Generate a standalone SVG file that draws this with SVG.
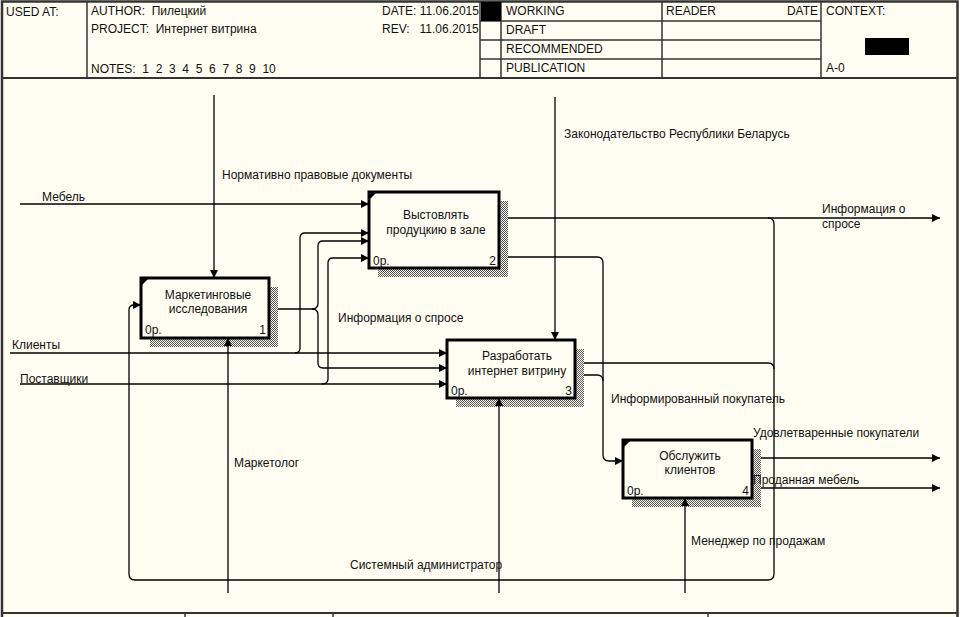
<svg xmlns="http://www.w3.org/2000/svg" width="960" height="617" viewBox="0 0 960 617">
<defs>
<pattern id="hatch" width="2" height="2" patternUnits="userSpaceOnUse">
<rect width="2" height="2" fill="#fffdf2"/>
<rect x="0" y="0" width="1" height="1" fill="#555"/>
<rect x="1" y="1" width="1" height="1" fill="#555"/>
</pattern>
<marker id="arr" viewBox="0 0 10 10" refX="10" refY="5" markerWidth="9" markerHeight="8" markerUnits="userSpaceOnUse" orient="auto">
<path d="M0,0 L10,5 L0,10 z" fill="#000"/>
</marker>
<style>
text{font-family:"Liberation Sans",Arial,sans-serif;font-size:12px;fill:#111}
.pre{white-space:pre}
.hl{stroke:#333;stroke-width:1.5;fill:none}
.c{stroke:#000;stroke-width:1.3;fill:none}
.ca{stroke:#000;stroke-width:1.3;fill:none;marker-end:url(#arr)}
.box{fill:#fffdf2;stroke:#000;stroke-width:3}
.sh{fill:url(#hatch)}
.mid{text-anchor:middle}
.end{text-anchor:end}
</style>
</defs>
<rect x="0" y="0" width="960" height="617" fill="#fffdf2"/>
<g id="header">
<rect x="2" y="1.5" width="955.5" height="640" class="hl" style="stroke-width:2.5"/>
<line x1="2" y1="78" x2="957" y2="78" class="hl" style="stroke-width:2"/>
<line x1="87" y1="1" x2="87" y2="78" class="hl"/>
<line x1="480" y1="1" x2="480" y2="78" class="hl"/>
<line x1="501" y1="1" x2="501" y2="78" class="hl"/>
<line x1="662" y1="1" x2="662" y2="78" class="hl"/>
<line x1="821" y1="1" x2="821" y2="78" class="hl"/>
<line x1="480" y1="21" x2="821" y2="21" class="hl"/>
<line x1="480" y1="40" x2="821" y2="40" class="hl"/>
<line x1="480" y1="59" x2="821" y2="59" class="hl"/>
<rect x="481" y="2" width="20" height="19" fill="#000"/>
<rect x="865" y="38" width="44" height="17" fill="#000"/>
<text x="6" y="16">USED AT:</text>
<text x="91" y="15" class="pre">AUTHOR:  Пилецкий</text>
<text x="91" y="33" class="pre">PROJECT:  Интернет витрина</text>
<text x="91" y="73" class="pre">NOTES:  1  2  3  4  5  6  7  8  9  10</text>
<text x="382" y="15" class="pre">DATE: 11.06.2015</text>
<text x="382" y="33" class="pre">REV:   11.06.2015</text>
<text x="506" y="15">WORKING</text>
<text x="506" y="34">DRAFT</text>
<text x="506" y="53">RECOMMENDED</text>
<text x="506" y="72">PUBLICATION</text>
<text x="666" y="15">READER</text>
<text x="818" y="15" class="end">DATE</text>
<text x="826" y="15">CONTEXT:</text>
<text x="826" y="72">A-0</text>
<line x1="2" y1="613" x2="957" y2="613" class="hl" style="stroke-width:2"/>
<line x1="185" y1="613" x2="185" y2="617" class="hl"/>
<line x1="333" y1="613" x2="333" y2="617" class="hl"/>
<line x1="708" y1="613" x2="708" y2="617" class="hl"/>
</g>
<g id="shadows">
<rect class="sh" x="150" y="287" width="128" height="60"/>
<rect class="sh" x="378" y="201" width="130" height="76"/>
<rect class="sh" x="456" y="349" width="128" height="58"/>
<rect class="sh" x="632" y="449" width="129" height="58"/>
</g>
<g id="connectors">
<path class="ca" d="M20,204 H369"/>
<path class="ca" d="M214,95 V278"/>
<path class="ca" d="M555,97 V340"/>
<path class="ca" d="M10,353 H447"/>
<path class="ca" d="M295,353 Q300,353 300,348 V238 Q300,233 305,233 H369"/>
<path class="ca" d="M20,384 H447"/>
<path class="ca" d="M322,384 Q328,384 328,379 V263 Q328,258 333,258 H369"/>
<path class="c" d="M278,309 H312"/>
<path class="ca" d="M312,309 Q318,309 318,303 V246 Q318,241 323,241 H369"/>
<path class="ca" d="M312,309 Q318,309 318,315 V363 Q318,368 323,368 H447"/>
<path class="ca" d="M508,218 H940"/>
<path class="ca" d="M768,218 Q774,218 774,224 V574 Q774,580 768,580 H135 Q129,580 129,574 V310 Q129,305 134,305 H141"/>
<path class="c" d="M584,363 H768 Q774,363 774,369"/>
<path class="ca" d="M508,257 H597 Q603,257 603,263 V455 Q603,461 609,461 H623"/>
<path class="c" d="M584,375 H597 Q603,375 603,381"/>
<path class="ca" d="M761,458 H940"/>
<path class="ca" d="M761,488 H940"/>
<path class="ca" d="M228,593 V338"/>
<path class="ca" d="M499,593 V398"/>
<path class="ca" d="M685,593 V498"/>
<text x="222" y="179">Нормативно правовые документы</text>
<text x="564" y="138">Законодательство Республики Беларусь</text>
<text x="42" y="201">Мебель</text>
<text x="12" y="349">Клиенты</text>
<text x="20" y="383">Поставщики</text>
<text x="338" y="322">Информация о спросе</text>
<text x="822" y="213">Информация о</text>
<text x="822" y="228">спросе</text>
<text x="611" y="403">Информированный покупатель</text>
<text x="753" y="437">Удовлетваренные покупатели</text>
<text x="753" y="484">Проданная мебель</text>
<text x="234" y="467">Маркетолог</text>
<text x="350" y="569">Системный администратор</text>
<text x="691" y="545">Менеджер по продажам</text>
</g>
<g id="node1">
<rect class="box" x="141" y="278" width="128" height="60"/>
<path d="M141,278 h8 l-8,8 z" fill="#000"/>
<text x="208" y="299" class="mid">Маркетинговые</text>
<text x="208" y="313" class="mid">исследования</text>
<text x="145" y="334">0р.</text>
<text x="266" y="334" class="end">1</text>
</g>
<g id="node2">
<rect class="box" x="369" y="192" width="130" height="76"/>
<path d="M369,192 h8 l-8,8 z" fill="#000"/>
<text x="436" y="219" class="mid">Выстовлять</text>
<text x="436" y="234" class="mid">продуцкию в зале</text>
<text x="373" y="265">0р.</text>
<text x="496" y="265" class="end">2</text>
</g>
<g id="node3">
<rect class="box" x="447" y="340" width="128" height="58"/>
<text x="517" y="360" class="mid">Разработать</text>
<text x="517" y="375" class="mid">интернет витрину</text>
<text x="451" y="395">0р.</text>
<text x="572" y="395" class="end">3</text>
</g>
<g id="node4">
<rect class="box" x="623" y="440" width="129" height="58"/>
<path d="M623,440 h8 l-8,8 z" fill="#000"/>
<text x="690" y="460" class="mid">Обслужить</text>
<text x="690" y="474" class="mid">клиентов</text>
<text x="627" y="495">0р.</text>
<text x="749" y="495" class="end">4</text>
</g>
</svg>
